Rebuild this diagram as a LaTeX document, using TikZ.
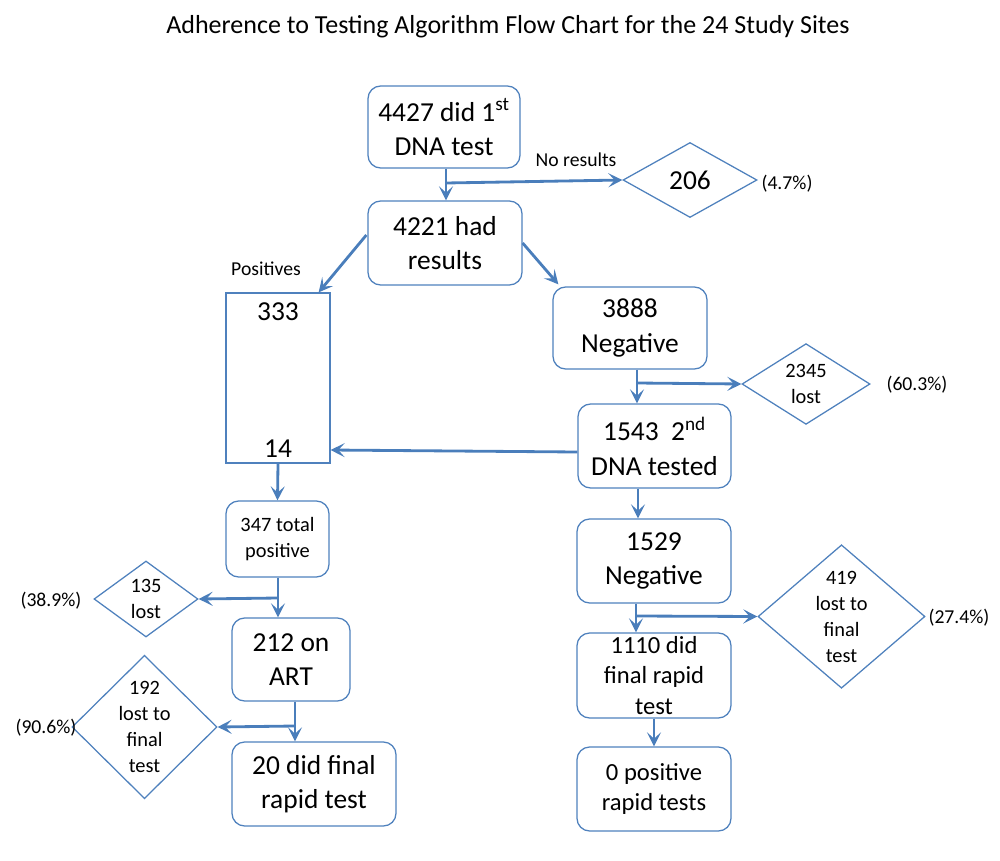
\documentclass[tikz,border=0pt]{standalone}
\usepackage{fontspec}
\setmainfont{Carlito}
\usetikzlibrary{shapes.geometric,arrows.meta,calc}
\definecolor{bord}{RGB}{79,129,189}
\definecolor{arrc}{RGB}{74,126,187}
\begin{document}
\begin{tikzpicture}[x=0.025cm,y=-0.025cm,
  box/.style={draw=bord,line width=0.9pt,rounded corners=9pt,inner sep=0pt,align=center,text=black},
  sqbox/.style={draw=bord,line width=0.9pt,inner sep=0pt},
  dia/.style={draw=bord,line width=0.9pt,diamond,inner sep=0pt,align=center,text=black},
  arr/.style={draw=arrc,line width=2pt,-{Stealth[length=10pt,width=10pt,inset=4.5pt]}},
  ln/.style={draw=arrc,line width=2pt},
  big/.style={font=\fontsize{19.5}{24.5}\selectfont},
  mid/.style={font=\fontsize{17.5}{21.5}\selectfont},
  sml/.style={font=\fontsize{14.5}{18.5}\selectfont},
  lbl/.style={font=\fontsize{14}{17}\selectfont,inner sep=0pt}]
\useasboundingbox (0,0) rectangle (1000,861);
% title
\node[font=\fontsize{18.5}{22}\selectfont,inner sep=0pt] (title) at (508,27) {Adherence to Testing Algorithm Flow Chart for the 24 Study Sites};
% boxes
\node[box,big,minimum width=152*0.025cm,minimum height=82*0.025cm] (A) at (444,127) {4427 did 1\textsuperscript{st}\\DNA test};
\node[box,big,minimum width=154*0.025cm,minimum height=84*0.025cm] (B) at (445,243) {4221 had\\results};
\node[box,big,minimum width=154*0.025cm,minimum height=82*0.025cm] (N1) at (630,328) {3888\\Negative};
\node[sqbox,minimum width=104*0.025cm,minimum height=170*0.025cm] (R) at (278,378) {};
\node[big,inner sep=0pt] (R1) at (278,312) {333};
\node[big,inner sep=0pt] (R2) at (278,449) {14};
\node[box,big,minimum width=153*0.025cm,minimum height=84*0.025cm] (S2) at (654.5,446) {1543~~2\textsuperscript{nd}\\DNA tested};
\node[box,sml,minimum width=103*0.025cm,minimum height=76*0.025cm] (P) at (277.5,539) {347 total\\positive};
\node[box,big,minimum width=118*0.025cm,minimum height=83*0.025cm] (ART) at (291,659.5) {212 on\\ART};
\node[box,big,minimum width=164*0.025cm,minimum height=84*0.025cm] (F20) at (314,784) {20 did final\\rapid test};
\node[box,big,minimum width=154*0.025cm,minimum height=84*0.025cm] (N2) at (654,561) {1529\\Negative};
\node[box,mid,minimum width=154*0.025cm,minimum height=85*0.025cm] (F1110) at (654,675.5) {1110 did\\final rapid\\test};
\node[box,mid,minimum width=154*0.025cm,minimum height=84*0.025cm] (Z) at (654,789) {0 positive\\rapid tests};
% diamonds
\node[dia,big,minimum width=134*0.025cm,minimum height=75*0.025cm] (D206) at (690,180) {206};
\node[dia,sml,minimum width=128*0.025cm,minimum height=76*0.025cm] (D2345) at (806,384) {2345\\lost};
\node[dia,sml,minimum width=104*0.025cm,minimum height=76*0.025cm] (D135) at (146,599) {135\\lost};
\node[dia,sml,minimum width=145*0.025cm,minimum height=120*0.025cm] (D192) at (144.5,727) {192\\lost to\\final\\test};
\node[dia,sml,minimum width=167*0.025cm,minimum height=117*0.025cm] (D419) at (841.5,616.5) {419\\lost to\\final\\test};
% labels
\node[lbl] (L206) at (787,184) {(4.7\%)};
\node[lbl] (Lno) at (576,160) {No results};
\node[lbl] (Lpos) at (266,269) {Positives};
\node[lbl] (L2345) at (917,385) {(60.3\%)};
\node[lbl] (L135) at (51,601) {(38.9\%)};
\node[lbl] (L192) at (46,728) {(90.6\%)};
\node[lbl] (L419) at (959,618) {(27.4\%)};
% connectors
\coordinate (j1) at (446,183);
\draw[arr] (j1 |- A.south) -- (j1 |- B.north);
\draw[arr] (j1) -- (D206.west);
\draw[arr] ($(B.west)+(-1,-8)$) -- ($(R.north east)+(-12,0)$);
\draw[arr] ($(B.east)+(0,0)$) -- ($(N1.north west)+(6,-2)$);
\coordinate (j2) at (637,383);
\draw[arr] (j2 |- N1.south) -- (j2 |- S2.north);
\draw[arr] (j2) -- (D2345.west);
\draw[arr] ($(S2.west)+(0,6)$) -- ($(R.east)+(0,72)$);
\draw[arr] (R.south) -- (P.north);
\coordinate (j3) at (278,598);
\draw[arr] (j3 |- P.south) -- (j3 |- ART.north);
\draw[arr] (j3) -- (D135.east);
\coordinate (j4) at (295,726);
\draw[arr] (j4 |- ART.south) -- (j4 |- F20.north);
\draw[arr] (j4) -- (D192.east);
\draw[arr] (S2.south -| 638,0) -- (N2.north -| 638,0);
\coordinate (j5) at (636,616);
\draw[arr] (j5 |- N2.south) -- (j5 |- F1110.north);
\draw[arr] (j5) -- (D419.west);
\draw[arr] (F1110.south) -- (Z.north);
\end{tikzpicture}
\end{document}
